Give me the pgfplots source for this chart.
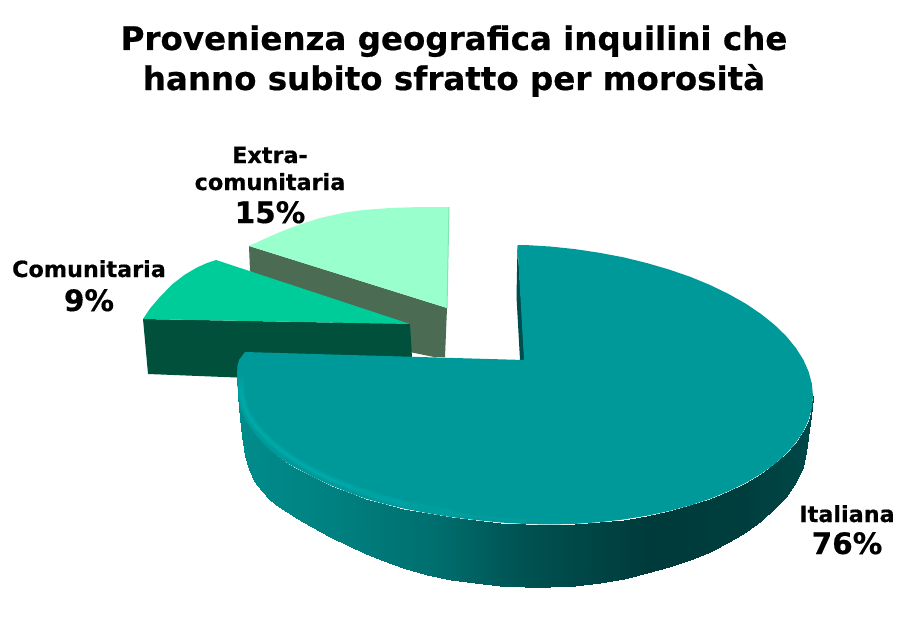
\documentclass[border=0pt]{standalone}
\usepackage{pgfplots}
\pgfplotsset{compat=1.18}
\usepackage{fontspec}
\setmainfont{DejaVu Sans}[BoldFeatures={FakeBold=0.5}]
\definecolor{top}{HTML}{009999}
\definecolor{rima}{HTML}{009E9E}
\definecolor{rimb}{HTML}{00A3A3}
\definecolor{rimc}{HTML}{00A9A9}
\definecolor{slit}{HTML}{004D4D}
\definecolor{extra}{HTML}{99FFCC}
\definecolor{extraedge}{HTML}{80E6B3}
\definecolor{extraside}{HTML}{4B6B53}
\definecolor{comun}{HTML}{00CC99}
\definecolor{comunside}{HTML}{00503C}
\tikzset{
	big/.style={anchor=base, font=\fontsize{32.5}{33}\selectfont\bfseries},
	lab/.style={anchor=base, font=\fontsize{22.3}{23}\selectfont\bfseries},
	pct/.style={anchor=base, font=\fontsize{29.5}{30}\selectfont\bfseries}
}
\begin{document}
\begin{tikzpicture}
\begin{axis}[
	scale only axis,
	width=918pt, height=618pt,
	xmin=0, xmax=918, ymin=0, ymax=618,
	y dir=reverse,
	axis line style={draw=none},
	ticks=none,
	clip=false,
	colormap={side}{rgb255(0cm)=(0,140,140) rgb255(1cm)=(0,128,128) rgb255(2cm)=(0,110,110) rgb255(2.8cm)=(0,84,84) rgb255(3.3cm)=(0,74,74) rgb255(4.2cm)=(0,58,58) rgb255(5.1cm)=(0,62,62) rgb255(5.8cm)=(0,72,72)}
]
	% Extra-comunitaria
	\addplot[draw=none, fill=extraside] coordinates {(249,246) (447,308) (445,357) (434,357) (412,352.5) (300,310) (250,271)} -- cycle;
	\addplot[draw=none, fill=extra] coordinates {(249,246) (262,240) (280,232) (297,225.5) (320,218) (345,212.5) (363,210) (390,208) (420,207) (449,207) (447,308)} -- cycle;
	\addplot[extraedge, line width=1pt] coordinates {(449,207) (447,308)};

	% Comunitaria
	\addplot[draw=none, fill=comunside] coordinates {(143,319) (410,324) (412,357) (300,380) (148,374)} -- cycle;
	\addplot[draw=none, fill=comun] coordinates {(143,319) (150,308.5) (159,298) (172,284.5) (185,274.5) (197,267.5) (207,263) (216,260) (410,324)} -- cycle;

	% Italiana
	\addplot[draw=none, fill=slit] coordinates {(517.5,246) (516.5,297) (520,360) (525,360)} -- cycle;
	\addplot[surf, shader=interp, mesh/rows=2, point meta=x] table {
x y
237 373
237.6 385
238.5 398
240.5 410
245 419.5
250 427
256 435.5
263 443
271 451
280 458
288 463.5
297 468.5
313 477
331 485.5
350 493
365 498.5
381 503
403.3 508.5
426.5 513
450.5 517
475 520
499.9 522.5
525 524
550.1 524.5
575 523.9
599.5 522.2
623.5 519.5
646.7 515.8
669 511.1
690.2 505.4
710.1 498.8
728.6 491.2
745.6 483
760.9 473.9
774.4 464.3
786 453.9
795.6 443
803.2 431.7
808.6 420
811.9 408.2
813 396
237 376
238 396
239.5 418
241.5 436
244.5 456
248.5 469
254 481
261.5 491
270 499.5
279 506.5
287 511.5
296 517.5
312 527
330 536.5
349 546
364 553
381 560
403 568
427 574.5
451 579.5
475 583
500 585.5
525 587
550 586.5
575 585.5
600 583
624 578.5
647 573
669 567
690 560
710 552
729 542
746 532
761 521
774 509
786 497
796 482
803 467
806 452
809 430
811.5 405
};
	\addplot[draw=none, fill=top] coordinates {
		(245,352) (524,360) (517.5,245) (525,245) (550.1,246.5) (575,249.1) (599.5,252.8) (623.5,257.3)
		(646.7,263) (669,269.5) (690.2,276.8) (710.1,285) (728.6,294) (745.6,303.6) (760.9,313.9)
		(774.4,324.7) (786,335.9) (795.6,347.6) (803.2,359.5) (808.6,371.6) (811.9,383.8) (813,396)
		(811.9,408.2) (808.6,420) (803.2,431.7) (795.6,443) (786,453.9) (774.4,464.3) (760.9,473.9)
		(745.6,483) (728.6,491.2) (710.1,498.8) (690.2,505.4) (669,511.1) (646.7,515.8) (623.5,519.5)
		(599.5,522.2) (575,523.9) (550.1,524.5) (525,524) (499.9,522.5) (475,520) (450.5,517)
		(426.5,513) (403.3,508.5) (381,503) (365,498.5) (350,493) (331,485.5) (313,477) (297,468.5)
		(288,463.5) (280,458) (271,451) (263,443) (256,435.5) (250,427) (245,419.5) (240.5,410)
		(238.5,398) (237.6,385) (237,373) (237.5,366) (239,360)
	} -- cycle;
	% soft rim along the front left edge, three widths that taper off
	\addplot[rima, line width=7pt, line cap=round] coordinates {
		(241,380) (242,397) (244.5,407) (249,416.5) (255,425) (262,433) (270,441) (280,449.5)
		(297,461.5) (313,470.5) (331,479.5) (350,487) (381,497.5) (403,503.5) (426.5,508.5) (450,512.5)};
	\addplot[rimb, line width=4.5pt, line cap=round] coordinates {
		(241,385) (242,397) (244.5,407) (249,416.5) (255,425) (262,433) (270,441) (280,449.5)
		(297,461.5) (313,470.5) (331,479.5) (350,487) (381,497.5) (403,503.5)};
	\addplot[rimc, line width=2pt, line cap=round] coordinates {
		(241.5,390) (242,397) (244.5,407) (249,416.5) (255,425) (262,433) (270,441) (280,449.5)
		(297,461.5) (313,470.5) (331,479.5) (350,487)};
	\addplot[rima, line width=2.5pt, line cap=round] coordinates {
		(450,513.5) (475,516.5) (500,519) (525,520.5)};

	% labels
	\node[big] at (axis cs:454,50) {Provenienza geografica inquilini che};
	\node[big] at (axis cs:454,90) {hanno subito sfratto per morosità};
	\node[lab] at (axis cs:270,163) {Extra-};
	\node[lab] at (axis cs:270,190) {comunitaria};
	\node[pct] at (axis cs:270,223) {15\%};
	\node[lab] at (axis cs:89,277) {Comunitaria};
	\node[pct] at (axis cs:89,311) {9\%};
	\node[lab] at (axis cs:847,522) {Italiana};
	\node[pct] at (axis cs:847,554) {76\%};
\end{axis}
\end{tikzpicture}
\end{document}
